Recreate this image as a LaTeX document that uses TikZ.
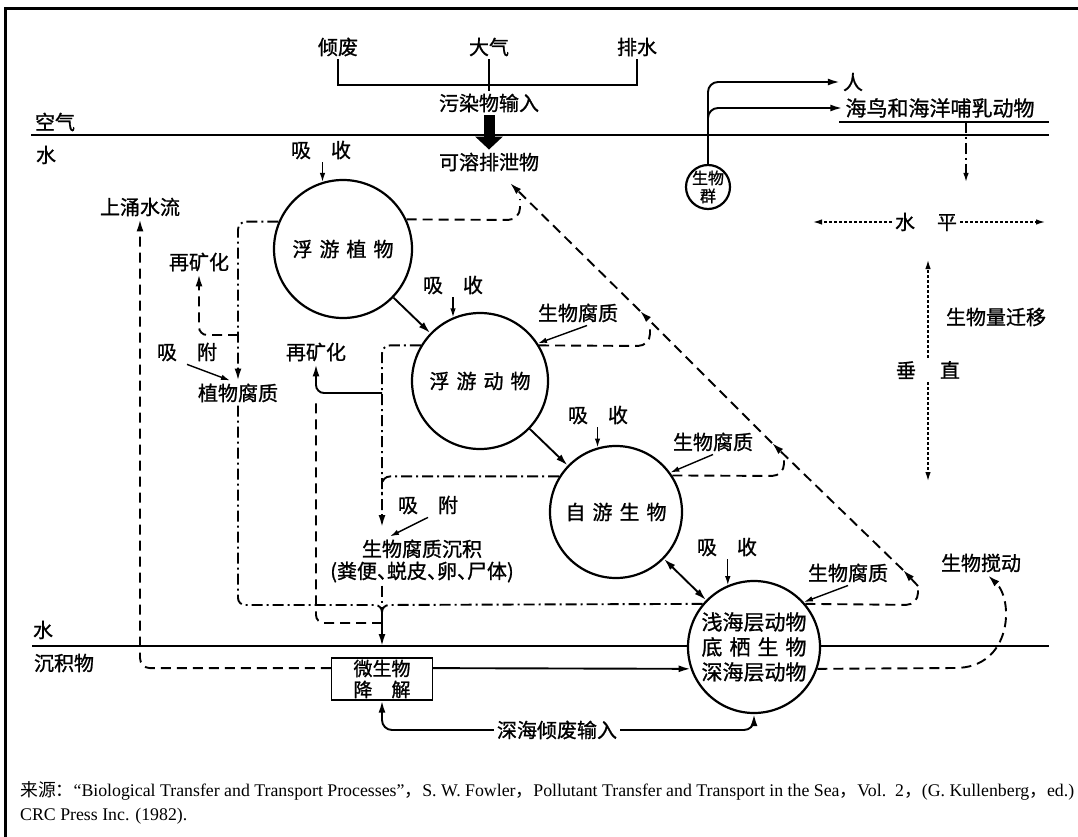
\documentclass[tikz,border=0pt]{standalone}
\usepackage{fontspec}
\setmainfont{Liberation Serif}
\newfontfamily\cjk[FakeBold=1]{Noto Sans CJK SC}
\newfontfamily\cjkcap{Noto Sans CJK SC}
\usetikzlibrary{arrows.meta}
\newcommand\wsp{\hspace{.35em}}
\newcommand\dun{\makebox[.5em][l]{、}}

\begin{document}
\begin{tikzpicture}[x=1pt,y=-1pt,
  lbl/.style={font=\cjk\fontsize{20}{22}\selectfont,inner sep=3pt},
  orb/.style={circle,draw,line width=2.2pt,fill=white,inner sep=0pt,font=\cjk\fontsize{20}{25}\selectfont},
  arr/.style={line width=1.9pt,-{Latex[length=12pt,width=7pt]}},
  sarr/.style={line width=1.4pt,-{Latex[length=9pt,width=5.5pt]}},
  dsh/.style={line width=1.9pt,dash pattern=on 10pt off 6pt},
  dshdot/.style={line width=1.9pt,dash pattern=on 11pt off 4pt on 2pt off 4pt},
  dotln/.style={line width=1.3pt,dash pattern=on 3pt off 2pt,-{Latex[length=9pt,width=5.5pt]}}]
\useasboundingbox (0,0) rectangle (1078,837);
\draw[line width=3pt] (5,837) -- (5,9) -- (1078,9);
\draw[line width=2.2pt] (31,135) -- (1049,135);
\draw[line width=2pt] (839,122) -- (1049,122);
\draw[line width=2.2pt] (32,646) -- (1049,646);

\node[lbl] (waste) at (338,47) {倾废};
\node[lbl] (atmos) at (489,47) {大气};
\node[lbl] (drain) at (637,47) {排水};
\node[lbl] (pollin) at (489,103) {污染物输入};
\node[lbl] (soluble) at (489,162) {可溶排泄物};
\node[lbl] (air) at (55,122) {空气};
\node[lbl] (watera) at (46,155) {水};
\node[lbl] (waterb) at (43,630) {水};
\node[lbl] (sedim) at (64,663) {沉积物};
\node[lbl] (upt1) at (321,150) {吸\quad 收};
\node[lbl] (upwell) at (140,207) {上涌水流};
\node[lbl] (remin1) at (199,262) {再矿化};
\node[lbl] (adsb1) at (187,352) {吸\quad 附};
\node[lbl] (phydet) at (238,393) {植物腐质};
\node[lbl] (remin2) at (316,352) {再矿化};
\node[lbl] (upt2) at (453,285) {吸\quad 收};
\node[lbl] (det1) at (578,313) {生物腐质};
\node[lbl] (upt3) at (598,415) {吸\quad 收};
\node[lbl] (det2) at (713,442) {生物腐质};
\node[lbl] (adsb2) at (428,505) {吸\quad 附};
\node[lbl,align=center] (sedi) at (422,561) {生物腐质沉积\\(粪便\dun 蜕皮\dun 卵\dun 尸体)};
\node[lbl] (upt4) at (727,547) {吸\quad 收};
\node[lbl] (det3) at (848,573) {生物腐质};
\node[lbl] (bioturb) at (981,563) {生物搅动};
\node[lbl] (horiz) at (926,222) {水\hspace{1.1em}平};
\node[lbl] (migr) at (996,317) {生物量迁移};
\node[lbl] (vert) at (928,370) {垂\hspace{1.2em}直};
\node[lbl] (man) at (853,82) {人};
\node[lbl,font=\cjk\fontsize{21}{22}\selectfont] (birds) at (940,108) {海鸟和海洋哺乳动物};
\node[lbl] (deepdump) at (557,730) {深海倾废输入};

\node[orb,minimum size=138pt] (phyto) at (343,249) {浮\wsp 游\wsp 植\wsp 物};
\node[orb,minimum size=136pt] (zoo) at (480,381) {浮\wsp 游\wsp 动\wsp 物};
\node[orb,minimum size=132pt] (nekton) at (616,512) {自\wsp 游\wsp 生\wsp 物};
\node[orb,minimum size=132pt,align=center,font=\cjk\fontsize{21}{25}\selectfont] (benthos) at (754,647)
  {浅海层动物\\\makebox[5em][s]{底\hfill 栖\hfill 生\hfill 物}\\深海层动物};
\node[orb,minimum size=44pt] (biota) at (708,187) {};
\node[align=center,inner sep=0pt,font=\cjk\fontsize{16}{18}\selectfont] (biotatx) at (biota) {生物\\群};
\node[draw,line width=1.4pt,fill=white,minimum width=101pt,minimum height=42pt,inner sep=0pt,
  align=center,font=\cjk\fontsize{19}{21}\selectfont] (microbe) at (382,679)
  {微生物\\\makebox[3em][s]{降\hfill 解}};

\node[anchor=west,inner sep=0pt,font=\fontsize{17.8}{20}\selectfont] (src1) at (20,791)
  {{\cjkcap 来源：}“Biological Transfer and Transport Processes”{\cjkcap ，}S. W. Fowler{\cjkcap ，}Pollutant Transfer and Transport in the Sea{\cjkcap ，}Vol.~~2{\cjkcap ，}(G. Kullenberg{\cjkcap ，}ed.)};
\node[anchor=west,inner sep=0pt,font=\fontsize{17.8}{20}\selectfont] (src2) at (20,816)
  {CRC Press Inc. (1982).};

\coordinate (bus) at (489,85);
\coordinate (jt) at (382,605);
\coordinate (j1) at (382,614);
\coordinate (jin) at (382,646);
\coordinate (sedtop) at (382,527);
\coordinate (zcol) at (382,495);
\coordinate (rem2a) at (382,393);
\coordinate (rem2b) at (382,623);
\coordinate (rem2c) at (316,400);
\coordinate (brch) at (238,335);
\coordinate (hk0) at (520,220);
\coordinate (hk0e) at (520,199);
\coordinate (hk1) at (650,346);
\coordinate (hk1e) at (650,326);
\coordinate (hk2) at (784,476);
\coordinate (hk2e) at (784,457);
\coordinate (hk3) at (918,605);
\coordinate (hk3e) at (918,586);
\coordinate (a3) at (903,570);
\coordinate (a2) at (772,443);
\coordinate (a1) at (640,311);
\coordinate (soltip) at (510,183);
\coordinate (ledgea) at (966,122);
\coordinate (ledgeb) at (966,182);
\coordinate (hl) at (813,222);
\coordinate (hr) at (1045,222);
\coordinate (vu) at (928,260);
\coordinate (vd) at (928,481);
\coordinate (stir) at (955,668);

\draw[line width=1.9pt] (waste.south) |- (bus) -| (drain.south);
\draw[line width=1.9pt] (atmos.south) -- (pollin.north);
\draw[line width=11pt,-{Triangle[length=13pt,width=27pt]}] (pollin.south) -- (soluble.north);

\draw[arr] (phyto) -- (zoo);
\draw[arr] (zoo) -- (nekton);
\draw[arr,{Latex[length=12pt,width=7pt]}-{Latex[length=12pt,width=7pt]}] (nekton) -- (benthos);

\draw[sarr] (upt1.south -| phyto.107) -- (phyto.107);
\draw[sarr] (upt2.south -| zoo.113) -- (zoo.113);
\draw[sarr] (upt3.south -| nekton.106) -- (nekton.106);
\draw[sarr] (upt4.south -| benthos.113) -- (benthos.113);
\draw[sarr] ([xshift=9pt]det1.south) -- (zoo.33);
\draw[sarr] (det2.south) -- (nekton.36);
\draw[sarr] (det3.south) -- (benthos.42);
\draw[sarr] (adsb1.south) -- ([xshift=-8pt]phydet.north);
\draw[sarr] (adsb2.south) -- ([xshift=-32pt]sedi.north);

\draw[dshdot,arr,rounded corners=8pt] (phyto.157) -| (phydet.north);
\draw[dsh,arr,rounded corners=8pt] (brch) -| (remin1.south);
\draw[dshdot,rounded corners=7pt] (phydet.south) |- (jt) -- (j1);
\draw[dshdot,rounded corners=7pt] (benthos.140) -- (jt) -- (j1);
\draw[dshdot,arr,rounded corners=8pt] (zoo.149) -| (sedtop);
\draw[dshdot,rounded corners=8pt] (nekton.148) -| (zcol);
\draw[dshdot] (sedi.south -| j1) -- (j1);
\draw[arr] (j1) -- (jin);
\draw[arr,rounded corners=8pt] (rem2a) -| (remin2.south);
\draw[dsh,rounded corners=8pt] (rem2b) -| (rem2c);
\draw[dsh,arr,rounded corners=10pt] (microbe.168) -| (upwell.south);
\draw[arr] (microbe.12) -- (benthos.199);
\draw[arr,rounded corners=10pt] (deepdump.west) -| (microbe.south);
\draw[arr,rounded corners=10pt] (deepdump.east) -| (benthos.south);

\draw[dsh,rounded corners=12pt] (phyto.25) -- (hk0) -- (hk0e);
\draw[dsh,rounded corners=12pt] (zoo.31) -- (hk1) -- (hk1e);
\draw[dsh,rounded corners=12pt] (nekton.33) -- (hk2) -- (hk2e);
\draw[dsh,rounded corners=12pt] (benthos.40) -- (hk3) -- (hk3e);
\draw[dsh,arr] (hk3e) -- (a3);
\draw[dsh,arr] (a3) -- (a2);
\draw[dsh,arr] (a2) -- (a1);
\draw[dsh,arr] (a1) -- (soltip);

\draw[dsh,arr] (benthos.-19) -- (stir) .. controls (1012,668) and (1014,600) .. ([xshift=7pt]bioturb.south);

\draw[arr,rounded corners=10pt] (biota.north) |- (man.west);
\draw[arr,rounded corners=10pt] (biota.north) |- (birds.west);
\draw[dshdot,line width=1.4pt,-{Latex[length=9pt,width=5.5pt]}] (ledgea) -- (ledgeb);

\draw[dotln] (horiz.west) -- (hl);
\draw[dotln] (horiz.east) -- (hr);
\draw[dotln] (vert.north) -- (vu);
\draw[dotln] (vert.south) -- (vd);
\end{tikzpicture}
\end{document}
